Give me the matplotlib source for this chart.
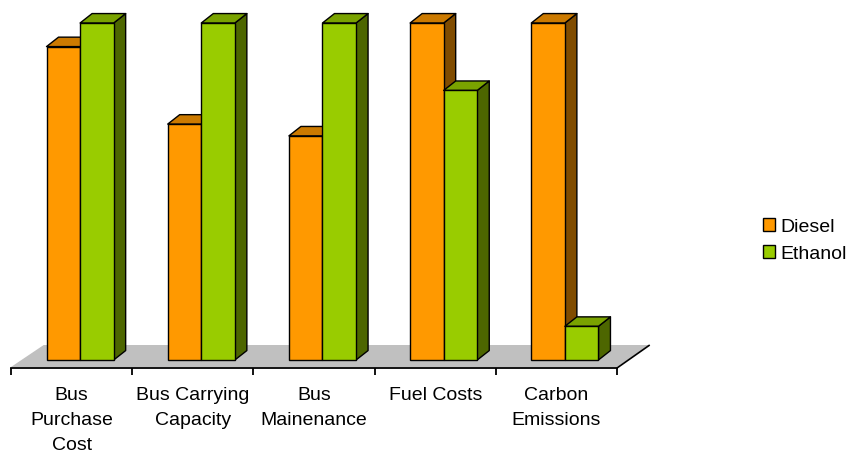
import matplotlib.pyplot as plt
from matplotlib.patches import Polygon, Patch

# Categories and relative scores for each fuel
categories = ["Bus\nPurchase\nCost", "Bus Carrying\nCapacity", "Bus\nMainenance",
              "Fuel Costs", "Carbon\nEmissions"]
diesel = [0.93, 0.70, 0.665, 1.0, 1.0]
ethanol = [1.0, 1.0, 1.0, 0.80, 0.10]

plt.rcParams['font.family'] = ['Liberation Sans', 'DejaVu Sans']

# colours: front, top, side
orange = ("#FF9900", "#CC7A00", "#804C00")
green = ("#99CC00", "#7AA300", "#4D6600")

# 3d look: bar depth offsets (x in category units, y in value units)
dx, dy = 0.099, 0.028
bar_w = 0.277
shift = 0.07

fig = plt.figure(figsize=(8.54, 4.56), dpi=100)
ax = fig.add_axes([11 / 854, (456 - 369) / 456, 606 / 854, 359 / 456])
y0 = -8 / 337
ax.set_xlim(-0.5, 4.5)
ax.set_ylim(y0, y0 + 359 / 337)

# grey floor
floor_front = -7 / 337
fdx, fdy = 0.27, 22 / 337
floor = Polygon([(-0.5, floor_front), (-0.5 + fdx, floor_front + fdy),
                 (4.5 + fdx, floor_front + fdy), (4.5, floor_front)],
                closed=True, facecolor="#C0C0C0", edgecolor="none",
                clip_on=False, zorder=1)
ax.add_patch(floor)
ax.plot([4.5, 4.5 + fdx], [y0, floor_front + fdy], color="black", lw=1.2,
        clip_on=False, zorder=2, solid_capstyle="butt")


def bar3d(x0, h, cols, z):
    x1 = x0 + bar_w
    ax.bar(x0, h, width=bar_w, align="edge", color=cols[0], edgecolor="black",
           linewidth=1.0, zorder=z + 0.2)
    top = Polygon([(x0, h), (x0 + dx, h + dy), (x1 + dx, h + dy), (x1, h)],
                  closed=True, facecolor=cols[1], edgecolor="black", lw=1.0,
                  zorder=z + 0.1, clip_on=False, joinstyle="round")
    side = Polygon([(x1, 0), (x1, h), (x1 + dx, h + dy), (x1 + dx, dy)],
                   closed=True, facecolor=cols[2], edgecolor="black", lw=1.0,
                   zorder=z, clip_on=False, joinstyle="round")
    ax.add_patch(side)
    ax.add_patch(top)


for i in range(len(categories)):
    left = i + shift - bar_w
    bar3d(left, diesel[i], orange, 3 + i * 2)
    bar3d(left + bar_w, ethanol[i], green, 4 + i * 2)

for s in ["left", "right", "top"]:
    ax.spines[s].set_visible(False)
ax.spines["bottom"].set_linewidth(1.3)
ax.spines["bottom"].set_zorder(2)
ax.set_yticks([])
ax.set_xticks([i - 0.5 for i in range(len(categories) + 1)])
ax.set_xticklabels([])
ax.set_xticks(range(len(categories)), minor=True)
ax.set_xticklabels(categories, minor=True, fontsize=14, linespacing=1.6)
ax.tick_params(axis="x", which="major", length=5, width=1.3, direction="out")
ax.tick_params(axis="x", which="minor", length=0, pad=13)

handles = [Patch(facecolor=orange[0], edgecolor="black", label="Diesel"),
           Patch(facecolor=green[0], edgecolor="black", label="Ethanol")]
fig.legend(handles=handles, loc="center left", bbox_to_anchor=(753 / 854, 1 - 241 / 456),
           frameon=False, fontsize=14, handlelength=0.65, handleheight=0.65,
           handletextpad=0.25, labelspacing=0.5, borderpad=0)

fig.savefig("out.png", dpi=100)
